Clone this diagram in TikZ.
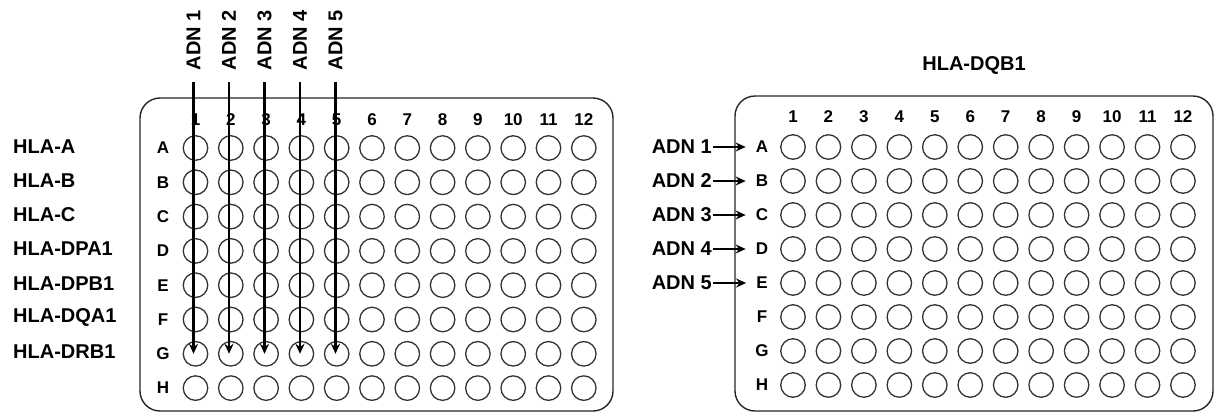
\documentclass[tikz,border=0pt]{standalone}
\usepackage{fontspec}
\setmainfont{Liberation Sans}
\usetikzlibrary{arrows.meta}
\begin{document}
\begin{tikzpicture}[x=1pt,y=-1pt,
  plate/.style={draw=black!85, line width=1.4pt, rounded corners=20pt},
  well/.style={circle, draw=black!80, line width=1.3pt, minimum size=24.5pt, inner sep=0pt},
  big/.style={font=\fontsize{20}{24}\bfseries\selectfont, inner sep=1pt},
  small/.style={font=\fontsize{17}{20}\bfseries\selectfont, inner sep=0pt},
  adn/.style={line width=2.3pt, -{Stealth[length=10pt,width=9pt]}}]
\useasboundingbox (0,0) rectangle (1215,413);

% ---------- left plate: one locus per row ----------
\draw[plate] (140,98) rectangle (613,411);
\foreach \c in {1,...,12} {
  \node[small] (cL\c) at ({195.5+35.3*(\c-1)},120) {\c};
  \foreach \r [count=\i] in {A,B,C,D,E,F,G,H}
    \node[well] (wL-\c-\r) at ({195.5+35.3*(\c-1)},{148+34.3*(\i-1)}) {};
}
\foreach \r [count=\i] in {A,B,C,D,E,F,G,H}
  \node[small] (rL\r) at (163,{148+34.3*(\i-1)}) {\r};

\foreach \g [count=\i] in {A,B,C,DPA1,DPB1,DQA1,DRB1}
  \node[big, anchor=west] (hla\i) at (12,{146.5+34.2*(\i-1)}) {HLA-\g};

\foreach \n in {1,...,5} {
  \node[big, rotate=90] (aL\n) at ({193.5+35.5*(\n-1)},40) {ADN \n};
  \draw[adn] (aL\n.west) ++(0,11) -- (aL\n.west |- wL-\n-G.center);
}

% ---------- right plate: one sample per row ----------
\draw[plate] (735,96) rectangle (1213,411);
\node[big] (hdr) at (974,65) {HLA-DQB1};
\foreach \c in {1,...,12} {
  \node[small] (cR\c) at ({793+35.45*(\c-1)},117) {\c};
  \foreach \r [count=\i] in {A,B,C,D,E,F,G,H}
    \node[well] (wR-\c-\r) at ({793+35.45*(\c-1)},{147+34*(\i-1)}) {};
}
\foreach \r [count=\i] in {A,B,C,D,E,F,G,H}
  \node[small] (rR\r) at (762,{147+34*(\i-1)}) {\r};

\foreach \r [count=\n] in {A,B,C,D,E} {
  \node[big, anchor=east] (aR\n) at (713,{147+34*(\n-1)}) {ADN \n};
  \draw[adn, shorten >=10pt] (aR\n.east) -- (rR\r.west);
}
\end{tikzpicture}
\end{document}
